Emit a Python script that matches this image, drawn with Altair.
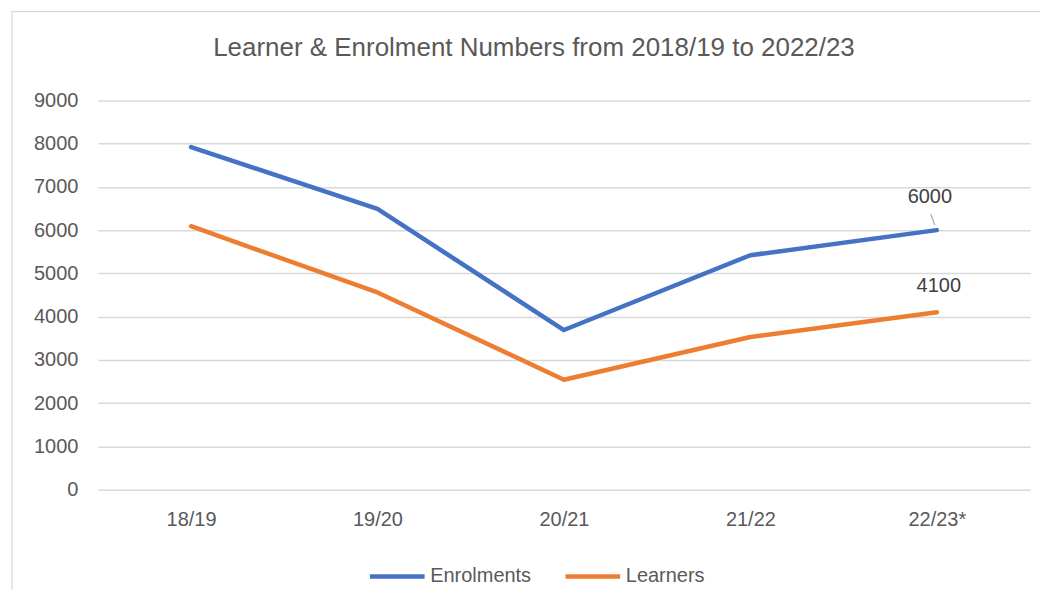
import altair as alt
import pandas as pd

years = ["18/19", "19/20", "20/21", "21/22", "22/23*"]
enrolments = [7920, 6490, 3690, 5420, 6000]
learners = [6090, 4560, 2540, 3530, 4100]
series_names = ["Enrolments", "Learners"]
colors = ["#4472C4", "#ED7D31"]

rows = []
for i, y in enumerate(years):
    rows.append({"year": y, "series": "Enrolments", "value": enrolments[i], "order": i})
    rows.append({"year": y, "series": "Learners", "value": learners[i], "order": i})
df = pd.DataFrame(rows)

FONT = "Liberation Sans"
GREY = "#595959"

x_enc = alt.X("year:N", sort=years, title=None,
              scale=alt.Scale(type="point", padding=0.5),
              axis=alt.Axis(labelAngle=0, labelFontSize=20, labelColor=GREY, labelFont=FONT,
                            ticks=False, domain=False, labelPadding=20, grid=False))
y_enc = alt.Y("value:Q", title=None,
              scale=alt.Scale(domain=[0, 9000]),
              axis=alt.Axis(values=list(range(0, 9001, 1000)), format="d", labelFontSize=20,
                            labelColor=GREY, labelFont=FONT, ticks=False, domain=False,
                            labelPadding=20, grid=True, gridColor="#d9d9d9", gridWidth=1.5))

color_enc = alt.Color("series:N", scale=alt.Scale(domain=series_names, range=colors),
                      legend=alt.Legend(title=None, orient="none", legendX=270, legendY=447,
                                        direction="horizontal", symbolType="stroke",
                                        symbolStrokeWidth=4.5, symbolSize=3000,
                                        labelFontSize=20, labelColor=GREY, labelFont=FONT,
                                        columnPadding=24, labelOffset=3))

frame = alt.Chart(pd.DataFrame({"a": [0]})).mark_rect(fill=None, stroke="#d9d9d9", strokeWidth=1.2).encode(
    x=alt.value(-86), x2=alt.value(1000), y=alt.value(-89), y2=alt.value(600))

lines = alt.Chart(df).mark_line(strokeWidth=4.5, strokeCap="round", strokeJoin="round").encode(
    x=x_enc, y=y_enc, color=color_enc, order="order:Q"
)

last = df[df["year"] == years[-1]]
enr_last = last[last["series"] == "Enrolments"]
lea_last = last[last["series"] == "Learners"]

lab_enr = alt.Chart(enr_last).mark_text(fontSize=20, font=FONT, color="#404040", dx=-7, dy=-33).encode(
    x=alt.X("year:N", sort=years), y="value:Q", text="value:Q")
lab_lea = alt.Chart(lea_last).mark_text(fontSize=20, font=FONT, color="#404040", dx=2, dy=-26).encode(
    x=alt.X("year:N", sort=years), y="value:Q", text="value:Q")
leader = alt.Chart(enr_last).mark_rule(color="#a6a6a6", strokeWidth=1.2,
                                       xOffset=-2, yOffset=-5, x2Offset=-6, y2Offset=-16).encode(
    x=alt.X("year:N", sort=years), y="value:Q", x2="year:N", y2="value:Q")

chart = alt.layer(frame, lines, leader, lab_enr, lab_lea).properties(
    width=934, height=390,
    autosize=alt.AutoSizeParams(type="none"),
    padding={"left": 90, "top": 92, "right": 10, "bottom": 100},
    title=alt.TitleParams("Learner & Enrolment Numbers from 2018/19 to 2022/23",
                          fontSize=26, font=FONT, fontWeight="normal", color=GREY,
                          anchor="middle", offset=-50, dx=-30),
).configure_view(stroke=None)

chart.save("out.html", embed_options={"renderer": "svg", "actions": False})
